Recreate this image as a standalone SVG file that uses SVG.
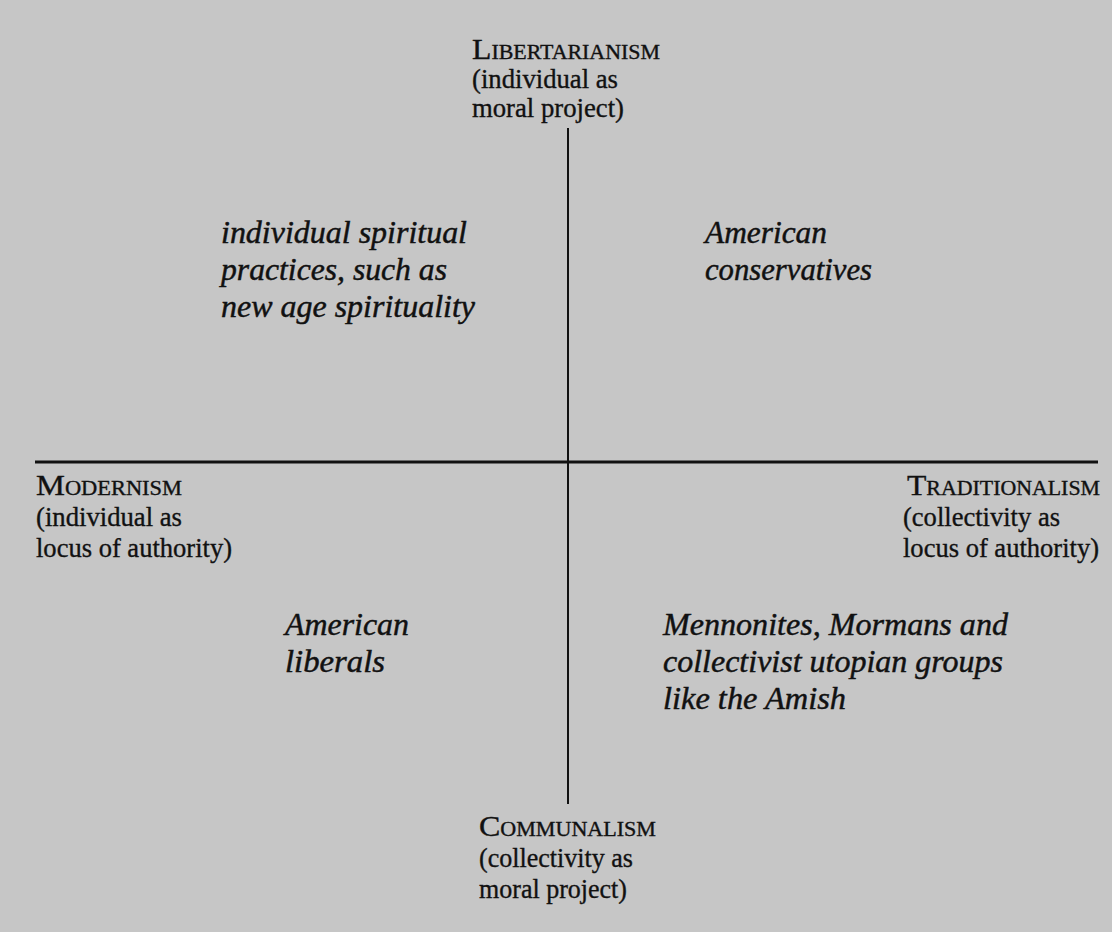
<svg xmlns="http://www.w3.org/2000/svg" width="1112" height="932" viewBox="0 0 1112 932">
<style>
.lab{font-family:"Liberation Serif","Times New Roman",serif;font-size:27px;fill:#111;stroke:#111;stroke-width:0.35px}
.big{font-size:29px}
.sc{font-size:20px}
.q{font-family:"Liberation Serif","Times New Roman",serif;font-style:italic;font-size:31px;fill:#111;stroke:#111;stroke-width:0.45px}
.axis{stroke:#111;fill:none}
</style>
<rect x="0" y="0" width="1112" height="932" fill="#c6c6c6"/>
<g id="connectors">
<line class="axis" x1="35" y1="462" x2="1098" y2="462" stroke-width="3"/>
<line class="axis" x1="568" y1="128" x2="568" y2="804" stroke-width="2"/>
</g>
<g id="libertarianism">
<text class="lab" x="472" y="59" textLength="188" lengthAdjust="spacingAndGlyphs"><tspan class="big">L</tspan><tspan class="sc">IBERTARIANISM</tspan></text>
<text class="lab" x="472" y="88" textLength="146" lengthAdjust="spacingAndGlyphs">(individual as</text>
<text class="lab" x="472" y="117" textLength="152" lengthAdjust="spacingAndGlyphs">moral project)</text>
</g>
<g id="communalism">
<text class="lab" x="479" y="836" textLength="177" lengthAdjust="spacingAndGlyphs"><tspan class="big">C</tspan><tspan class="sc">OMMUNALISM</tspan></text>
<text class="lab" x="479" y="867" textLength="154" lengthAdjust="spacingAndGlyphs">(collectivity as</text>
<text class="lab" x="479" y="898" textLength="148" lengthAdjust="spacingAndGlyphs">moral project)</text>
</g>
<g id="modernism">
<text class="lab" x="36" y="495" textLength="146" lengthAdjust="spacingAndGlyphs"><tspan class="big">M</tspan><tspan class="sc">ODERNISM</tspan></text>
<text class="lab" x="36" y="526" textLength="146" lengthAdjust="spacingAndGlyphs">(individual as</text>
<text class="lab" x="36" y="557" textLength="196" lengthAdjust="spacingAndGlyphs">locus of authority)</text>
</g>
<g id="traditionalism">
<text class="lab" x="907" y="495" textLength="193" lengthAdjust="spacingAndGlyphs"><tspan class="big">T</tspan><tspan class="sc">RADITIONALISM</tspan></text>
<text class="lab" x="903" y="526" textLength="157" lengthAdjust="spacingAndGlyphs">(collectivity as</text>
<text class="lab" x="903" y="557" textLength="196" lengthAdjust="spacingAndGlyphs">locus of authority)</text>
</g>
<g id="spiritual">
<text class="q" x="221" y="243" textLength="246" lengthAdjust="spacingAndGlyphs">individual spiritual</text>
<text class="q" x="221" y="280" textLength="226" lengthAdjust="spacingAndGlyphs">practices, such as</text>
<text class="q" x="221" y="317" textLength="254" lengthAdjust="spacingAndGlyphs">new age spirituality</text>
</g>
<g id="conservatives">
<text class="q" x="705" y="243" textLength="122" lengthAdjust="spacingAndGlyphs">American</text>
<text class="q" x="705" y="280" textLength="167" lengthAdjust="spacingAndGlyphs">conservatives</text>
</g>
<g id="liberals">
<text class="q" x="285" y="635" textLength="124" lengthAdjust="spacingAndGlyphs">American</text>
<text class="q" x="285" y="672" textLength="100" lengthAdjust="spacingAndGlyphs">liberals</text>
</g>
<g id="mennonites">
<text class="q" x="663" y="635" textLength="345" lengthAdjust="spacingAndGlyphs">Mennonites, Mormans and</text>
<text class="q" x="663" y="672" textLength="340" lengthAdjust="spacingAndGlyphs">collectivist utopian groups</text>
<text class="q" x="663" y="709" textLength="183" lengthAdjust="spacingAndGlyphs">like the Amish</text>
</g>
</svg>
